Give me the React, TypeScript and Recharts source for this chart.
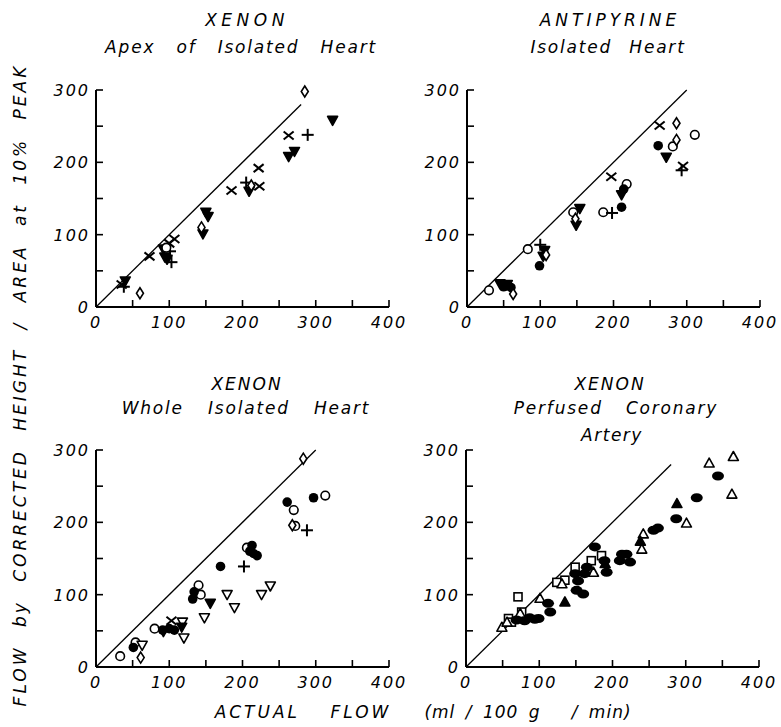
import { ScatterChart, Scatter, XAxis, YAxis, ReferenceLine } from 'recharts'

type Pt = [number, number]

// axis ticks (shared by all four panels)
const xTicks = [0, 50, 100, 150, 200, 250, 300, 350, 400]
const yTicks = [0, 50, 100, 150, 200, 250, 300]

// Xenon – apex of isolated heart
const apexCross: Pt[] = [[35, 31], [73, 70], [100, 88], [107, 94], [185, 161], [222, 192], [223, 167], [263, 237]]
const apexPlus: Pt[] = [[38, 28], [101, 77], [103, 62], [205, 172], [289, 238]]
const apexTriDown: Pt[] = [[40, 36], [92, 80], [94, 69], [97, 66], [150, 131], [153, 125], [146, 101], [209, 160], [263, 208], [271, 215], [323, 258]]
const apexDiamond: Pt[] = [[60, 19], [144, 110], [212, 168], [285, 298]]
const apexCircle: Pt[] = [[96, 82]]

// Antipyrine – isolated heart
const antiCircle: Pt[] = [[30, 23], [83, 80], [145, 131], [186, 131], [218, 170], [281, 222], [311, 238]]
const antiDot: Pt[] = [[50, 28], [60, 27], [99, 57], [211, 138], [214, 163], [261, 223]]
const antiTriDown: Pt[] = [[45, 32], [55, 31], [104, 70], [106, 78], [149, 113], [154, 136], [211, 155], [272, 207]]
const antiDiamond: Pt[] = [[63, 18], [108, 72], [148, 122], [286, 254], [286, 231]]
const antiCross: Pt[] = [[197, 180], [263, 251], [295, 195]]
const antiPlus: Pt[] = [[100, 86], [198, 130], [293, 189]]

// Xenon – whole isolated heart
const wholeCircle: Pt[] = [[33, 15], [54, 34], [80, 53], [140, 113], [143, 100], [206, 165], [270, 217], [272, 195], [313, 237]]
const wholeDot: Pt[] = [[51, 27], [91, 51], [100, 53], [107, 51], [132, 94], [134, 104], [170, 139], [210, 160], [213, 168], [215, 157], [220, 154], [261, 228], [297, 234]]
const wholeTriOpen: Pt[] = [[63, 30], [118, 62], [120, 40], [148, 68], [179, 100], [189, 82], [226, 100], [238, 112]]
const wholeTriDown: Pt[] = [[92, 49], [117, 55], [156, 88]]
const wholeDiamond: Pt[] = [[61, 13], [283, 288], [268, 196]]
const wholeCross: Pt[] = [[103, 64]]
const wholePlus: Pt[] = [[202, 139], [288, 189]]

// Xenon – perfused coronary artery
const coronarySquare: Pt[] = [[71, 97], [58, 67], [62, 62], [76, 76], [124, 117], [135, 120], [149, 138], [171, 147], [185, 154]]
const coronaryTriOpen: Pt[] = [[49, 55], [56, 62], [74, 74], [101, 95], [131, 115], [174, 131], [242, 184], [240, 163], [301, 199], [332, 282], [365, 291], [363, 239]]
const coronaryTriFilled: Pt[] = [[135, 90], [190, 143], [238, 174], [288, 226]]
const coronaryEllipse: Pt[] = [[69, 65], [80, 64], [87, 68], [94, 66], [99, 67], [112, 88], [115, 76], [149, 129], [151, 106], [153, 119], [160, 101], [162, 129], [165, 138], [176, 166], [189, 147], [192, 131], [210, 147], [213, 156], [219, 156], [224, 145], [256, 189], [262, 192], [287, 205], [315, 234], [344, 264]]

const FONT = '"DejaVu Sans", sans-serif'
const tickStyle = { fontFamily: FONT, fontStyle: 'italic', fontSize: 16, letterSpacing: 2, fill: '#000' }

type Kind = 'circle' | 'dot' | 'ellipse' | 'diamond' | 'triDown' | 'triDownOpen' | 'triUp' | 'triUpOpen' | 'square' | 'cross' | 'plus'

function Marker({ kind, cx, cy }: { kind: Kind; cx: number; cy: number }) {
  const sw = 1.6
  switch (kind) {
    case 'circle':
      return <circle cx={cx} cy={cy} r={4.3} fill="#fff" stroke="#000" strokeWidth={sw} />
    case 'dot':
      return <circle cx={cx} cy={cy} r={4.8} fill="#000" />
    case 'ellipse':
      return <ellipse cx={cx} cy={cy} rx={6} ry={4.5} fill="#000" />
    case 'diamond':
      return <polygon points={`${cx},${cy - 5.5} ${cx + 3.5},${cy} ${cx},${cy + 5.5} ${cx - 3.5},${cy}`} fill="#fff" stroke="#000" strokeWidth={sw} />
    case 'triDown':
    case 'triDownOpen':
      return (
        <polygon
          points={`${cx - 5},${cy - 4} ${cx + 5},${cy - 4} ${cx},${cy + 5}`}
          fill={kind === 'triDown' ? '#000' : '#fff'}
          stroke="#000"
          strokeWidth={sw}
          strokeLinejoin="round"
        />
      )
    case 'triUp':
    case 'triUpOpen':
      return (
        <polygon
          points={`${cx - 5},${cy + 4} ${cx + 5},${cy + 4} ${cx},${cy - 5}`}
          fill={kind === 'triUp' ? '#000' : '#fff'}
          stroke="#000"
          strokeWidth={sw}
          strokeLinejoin="round"
        />
      )
    case 'square':
      return <rect x={cx - 4} y={cy - 4} width={8} height={8} fill="#fff" stroke="#000" strokeWidth={sw} />
    case 'cross':
      return (
        <g stroke="#000" strokeWidth={2}>
          <line x1={cx - 5} y1={cy - 4} x2={cx + 5} y2={cy + 4} />
          <line x1={cx - 5} y1={cy + 4} x2={cx + 5} y2={cy - 4} />
        </g>
      )
    case 'plus':
      return (
        <g stroke="#000" strokeWidth={2}>
          <line x1={cx - 6} y1={cy} x2={cx + 6} y2={cy} />
          <line x1={cx} y1={cy - 6} x2={cx} y2={cy + 6} />
        </g>
      )
  }
  return null
}

const shapeFor = (kind: Kind) => (props: any) => <Marker kind={kind} cx={props.cx} cy={props.cy} />

function XTick(props: any) {
  const { x, y, payload } = props
  const v = payload.value
  return (
    <g>
      <line x1={x} y1={y} x2={x} y2={y - 7} stroke="#000" strokeWidth={1.6} />
      {v % 100 === 0 && (
        <text x={x} y={y + 21} textAnchor="middle" style={tickStyle}>
          {v}
        </text>
      )}
    </g>
  )
}

function YTick(props: any) {
  const { x, y, payload } = props
  const v = payload.value
  return (
    <g>
      <line x1={x} y1={y} x2={x + 7} y2={y} stroke="#000" strokeWidth={1.6} />
      {v % 100 === 0 && (
        <text x={x - 6} y={y + 6} textAnchor="end" style={tickStyle}>
          {v}
        </text>
      )}
    </g>
  )
}

interface Series {
  kind: Kind
  pts: Pt[]
}

function Panel({ left, top, lineEnd, series }: { left: number; top: number; lineEnd: number; series: Series[] }) {
  return (
    <div style={{ position: 'absolute', left, top }}>
      <ScatterChart width={357} height={255} margin={{ top: 10, right: 20, bottom: 0, left: 0 }} style={{ overflow: 'visible' }}>
        <XAxis
          type="number"
          dataKey="x"
          domain={[0, 400]}
          ticks={xTicks}
          interval={0}
          height={28}
          tickSize={0}
          tickMargin={0}
          axisLine={{ stroke: '#000', strokeWidth: 2 }}
          tick={XTick}
        />
        <YAxis
          type="number"
          dataKey="y"
          domain={[0, 300]}
          ticks={yTicks}
          interval={0}
          width={44}
          tickSize={0}
          tickMargin={0}
          axisLine={{ stroke: '#000', strokeWidth: 2 }}
          tick={YTick}
        />
        <ReferenceLine
          segment={[{ x: 0, y: 0 }, { x: lineEnd, y: lineEnd }]}
          stroke="#000"
          strokeWidth={1.3}
        />
        {series.map((s, i) => (
          <Scatter
            key={i}
            data={s.pts.map(([x, y]) => ({ x, y }))}
            shape={shapeFor(s.kind)}
            isAnimationActive={false}
          />
        ))}
      </ScatterChart>
    </div>
  )
}

function Caption({
  x,
  y,
  size = 17,
  ls = 2,
  ws = 0,
  rotate = false,
  children,
}: {
  x: number
  y: number
  size?: number
  ls?: number
  ws?: number
  rotate?: boolean
  children: React.ReactNode
}) {
  return (
    <div
      style={{
        position: 'absolute',
        left: x,
        top: y,
        transform: `translate(-50%, -50%)${rotate ? ' rotate(-90deg)' : ''}`,
        fontFamily: FONT,
        fontStyle: 'italic',
        fontSize: size,
        letterSpacing: ls,
        wordSpacing: ws,
        whiteSpace: 'nowrap',
        lineHeight: 1,
        color: '#000',
      }}
    >
      {children}
    </div>
  )
}

export default function App() {
  return (
    <div style={{ position: 'absolute', left: 0, top: 0, width: 781, height: 727, background: '#fff', overflow: 'hidden' }}>
      <Caption x={247} y={20} ls={4.5}>XENON</Caption>
      <Caption x={241} y={47} ls={1.8} ws={14}>Apex of Isolated Heart</Caption>
      <Caption x={610} y={20} ls={4}>ANTIPYRINE</Caption>
      <Caption x={608} y={47} ls={1.8} ws={10}>Isolated Heart</Caption>

      <Caption x={247} y={384} ls={2}>XENON</Caption>
      <Caption x={246} y={408} ls={1.8} ws={17}>Whole Isolated Heart</Caption>
      <Caption x={610} y={384} ls={2}>XENON</Caption>
      <Caption x={616} y={408} ls={1.8} ws={16}>Perfused Coronary</Caption>
      <Caption x={612} y={435} ls={1.5}>Artery</Caption>

      <Caption x={20} y={385} ls={3} ws={10} rotate>
        FLOW by CORRECTED HEIGHT / AREA at 10% PEAK
      </Caption>
      <Caption x={303} y={712} ls={3} ws={22}>ACTUAL FLOW</Caption>
      <Caption x={528} y={712} ls={1} ws={4}>(ml / 100 g &nbsp; / min)</Caption>

      <Panel
        left={52}
        top={80}
        lineEnd={280}
        series={[
          { kind: 'cross', pts: apexCross },
          { kind: 'plus', pts: apexPlus },
          { kind: 'triDown', pts: apexTriDown },
          { kind: 'diamond', pts: apexDiamond },
          { kind: 'circle', pts: apexCircle },
        ]}
      />
      <Panel
        left={423}
        top={80}
        lineEnd={300}
        series={[
          { kind: 'circle', pts: antiCircle },
          { kind: 'dot', pts: antiDot },
          { kind: 'triDown', pts: antiTriDown },
          { kind: 'diamond', pts: antiDiamond },
          { kind: 'cross', pts: antiCross },
          { kind: 'plus', pts: antiPlus },
        ]}
      />
      <Panel
        left={52}
        top={440}
        lineEnd={300}
        series={[
          { kind: 'circle', pts: wholeCircle },
          { kind: 'dot', pts: wholeDot },
          { kind: 'triDownOpen', pts: wholeTriOpen },
          { kind: 'triDown', pts: wholeTriDown },
          { kind: 'diamond', pts: wholeDiamond },
          { kind: 'cross', pts: wholeCross },
          { kind: 'plus', pts: wholePlus },
        ]}
      />
      <Panel
        left={422}
        top={440}
        lineEnd={280}
        series={[
          { kind: 'square', pts: coronarySquare },
          { kind: 'triUpOpen', pts: coronaryTriOpen },
          { kind: 'triUp', pts: coronaryTriFilled },
          { kind: 'ellipse', pts: coronaryEllipse },
        ]}
      />
    </div>
  )
}
